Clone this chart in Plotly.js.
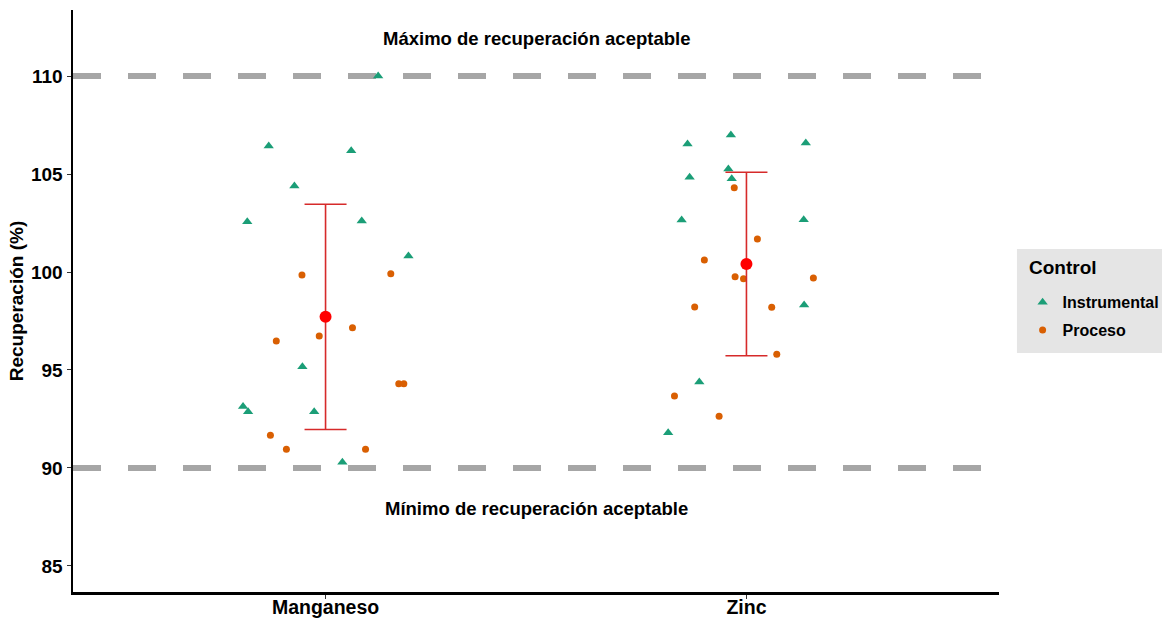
<!DOCTYPE html>
<html>
<head>
<meta charset="utf-8">
<script src="https://cdn.plot.ly/plotly-3.0.1.min.js"></script>
<style>
  html, body { margin: 0; padding: 0; background: #ffffff; }
  #chart { width: 1162px; height: 619px; }
</style>
</head>
<body>
<div id="chart"></div>
<script>
// Metals analysed and their category position on the x axis
const metals = ['Manganeso', 'Zinc'];
const metalPos = [1, 2];

// Recovery (%) per control type and metal
const mnInstrumental = [110.0, 106.43, 106.19, 104.39, 102.57, 102.60, 100.82, 95.17, 93.13, 92.87, 92.87, 90.29];
const mnProceso = [99.85, 99.91, 97.16, 96.73, 96.48, 94.30, 94.30, 91.67, 90.95, 90.95];
const znInstrumental = [106.99, 106.53, 106.58, 105.26, 104.83, 104.76, 102.65, 102.67, 98.32, 94.39, 91.80];
const znProceso = [104.30, 101.68, 100.61, 99.76, 99.66, 99.69, 98.21, 98.20, 95.80, 93.67, 92.64];

// Horizontal jitter applied to each point (category units)
const mnInstrumentalJitter = [0.125, -0.135, 0.061, -0.074, -0.186, 0.086, 0.197, -0.055, -0.196, -0.184, -0.027, 0.040];
const mnProcesoJitter = [-0.056, 0.155, 0.064, -0.015, -0.117, 0.174, 0.186, -0.131, -0.093, 0.095];
const znInstrumentalJitter = [-0.037, -0.140, 0.141, -0.043, -0.135, -0.035, -0.154, 0.136, 0.137, -0.112, -0.186];
const znProcesoJitter = [-0.029, 0.026, -0.100, -0.027, -0.007, 0.159, -0.123, 0.060, 0.072, -0.171, -0.065];

// Acceptable recovery limits
const limits = [90, 110];
const limitLabels = ['Mínimo de recuperación aceptable', 'Máximo de recuperación aceptable'];

const yTicks = [85, 90, 95, 100, 105, 110];
const legendTitle = 'Control';

const colInstrumental = '#1b9e77';
const colProceso = '#d95f02';
const textCol = '#000000';
const fontFam = '"Liberation Sans", Arial, sans-serif';

function mean(a) { return a.reduce((s, v) => s + v, 0) / a.length; }
function sd(a) {
  const m = mean(a);
  return Math.sqrt(a.reduce((s, v) => s + (v - m) * (v - m), 0) / (a.length - 1));
}
function place(base, jit) { return jit.map(j => base + j); }

const mnAll = mnInstrumental.concat(mnProceso);
const znAll = znInstrumental.concat(znProceso);
const means = [mean(mnAll), mean(znAll)];
const sds = [sd(mnAll), sd(znAll)];

const traces = [
  {
    type: 'scatter', mode: 'markers', name: 'Instrumental', legendgroup: 'i',
    x: place(metalPos[0], mnInstrumentalJitter).concat(place(metalPos[1], znInstrumentalJitter)),
    y: mnInstrumental.concat(znInstrumental),
    marker: { symbol: 'triangle-up', size: 9, color: colInstrumental },
    hoverinfo: 'y'
  },
  {
    type: 'scatter', mode: 'markers', name: 'Proceso', legendgroup: 'p',
    x: place(metalPos[0], mnProcesoJitter).concat(place(metalPos[1], znProcesoJitter)),
    y: mnProceso.concat(znProceso),
    marker: { symbol: 'circle', size: 7, color: colProceso },
    hoverinfo: 'y'
  },
  {
    type: 'scatter', mode: 'markers', showlegend: false,
    x: metalPos, y: means,
    marker: { symbol: 'circle', size: 12, color: '#ff0000' },
    error_y: { type: 'data', array: sds, visible: true, color: '#d62a2a', thickness: 1.6, width: 21 },
    hoverinfo: 'y'
  }
];

// Dashed limit lines plus the legend panel background
const shapes = limits.map(v => ({
  type: 'line', xref: 'paper', yref: 'y', x0: 0, x1: 1, y0: v, y1: v,
  line: { color: '#a6a6a6', width: 6, dash: '28px,27px' }, layer: 'below'
}));
shapes.push({
  type: 'rect', xref: 'paper', yref: 'paper', x0: 1.0194, x1: 1.2, y0: 0.4107, y1: 0.5893,
  fillcolor: '#e5e5e5', line: { width: 0 }, layer: 'below'
});

const annotations = [
  { xref: 'x', yref: 'y', x: 1.5, y: limits[1] + 1.9, text: limitLabels[1], showarrow: false,
    font: { family: fontFam, size: 18.5, color: textCol, weight: 700 } },
  { xref: 'x', yref: 'y', x: 1.5, y: limits[0] - 2.05, text: limitLabels[0], showarrow: false,
    font: { family: fontFam, size: 18.5, color: textCol, weight: 700 } },
  { xref: 'paper', yref: 'paper', x: 1.0302, xanchor: 'left', y: 0.557, yanchor: 'middle',
    text: legendTitle, showarrow: false,
    font: { family: fontFam, size: 19, color: textCol, weight: 700 } }
];

const layout = {
  width: 1162, height: 619,
  margin: { l: 73, r: 163, t: 10, b: 27, autoexpand: false },
  paper_bgcolor: '#ffffff', plot_bgcolor: '#ffffff',
  font: { family: fontFam, color: textCol },
  showlegend: true,
  legend: {
    font: { family: fontFam, size: 16, color: textCol, weight: 700 },
    bgcolor: 'rgba(0,0,0,0)', borderwidth: 0,
    x: 1.0255, xanchor: 'left', y: 0.527, yanchor: 'top',
    tracegroupgap: 4, itemsizing: 'trace'
  },
  xaxis: {
    range: [0.4, 2.6], tickmode: 'array', tickvals: metalPos, ticktext: metals,
    showgrid: false, zeroline: false, showline: true, linecolor: '#000000', linewidth: 2.5,
    ticks: 'outside', ticklen: 4, tickcolor: '#333333', tickwidth: 1,
    ticklabelstandoff: -8,
    tickfont: { family: fontFam, size: 19.5, color: textCol, weight: 700 },
    automargin: false, fixedrange: true
  },
  yaxis: {
    range: [83.67, 113.37], tickmode: 'array', tickvals: yTicks,
    showgrid: false, zeroline: false, showline: true, linecolor: '#000000', linewidth: 2.5,
    ticks: 'outside', ticklen: 4, tickcolor: '#333333', tickwidth: 1,
    tickfont: { family: fontFam, size: 19, color: textCol, weight: 700 },
    title: { text: 'Recuperación (%)', standoff: 3, font: { family: fontFam, size: 19, color: textCol, weight: 700 } },
    automargin: false, fixedrange: true
  },
  shapes: shapes,
  annotations: annotations
};

Plotly.newPlot('chart', traces, layout, { displayModeBar: false, staticPlot: true });
</script>
</body>
</html>
